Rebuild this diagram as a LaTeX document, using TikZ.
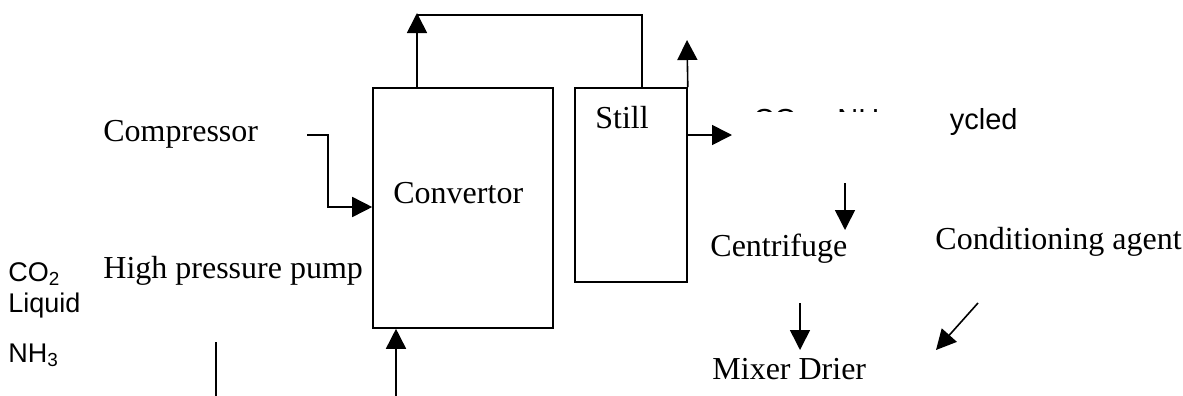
\documentclass[tikz,border=0pt]{standalone}
\usepackage{fontspec}
\setmainfont{Liberation Serif}
\newfontfamily\arialf{Liberation Sans}
\usetikzlibrary{arrows.meta}
\tikzset{
  lbl/.style={inner sep=0pt, anchor=base west, font=\fontsize{16}{19}\selectfont},
  slbl/.style={inner sep=0pt, anchor=base west, font=\arialf\fontsize{13.5}{16}\selectfont},
  rlbl/.style={inner sep=0pt, anchor=base west, font=\arialf\fontsize{14.5}{17}\selectfont},
  unit/.style={draw, line width=0.8pt, inner sep=0pt},
  flow/.style={line width=0.8pt},
  arr/.style={line width=0.8pt, -{Triangle[length=10pt,width=10pt]}}
}
\begin{document}
\begin{tikzpicture}[x=0.5pt,y=-0.5pt]
\useasboundingbox (0,0) rectangle (1183,396);
% units
\node[unit, minimum width=90pt, minimum height=120pt] (conv) at (463,208) {};
\node[unit, minimum width=56pt, minimum height=97pt] (still) at (631,185) {};
% texts
\node[lbl] (tconv) at (393,203) {Convertor};
\node[lbl] (tstill) at (595,128) {Still};
\node[lbl] (tcomp) at (103,141) {Compressor};
\node[lbl] (tpump) at (103,278) {High pressure pump};
\node[lbl] (tcent) at (710,256) {Centrifuge};
\node[lbl] (tcond) at (935,249) {Conditioning agent};
\node[lbl] (tmix) at (712,379) {Mixer Drier};
\node[slbl] (tco2) at (8,281) {CO\textsubscript{2}};
\node[slbl] (tliq) at (8,312) {Liquid};
\node[slbl] (tnh3) at (8,362) {NH\textsubscript{3}};
\node[rlbl] (rco2) at (753,129) {CO\textsubscript{2}};
\node[rlbl] (rnh3) at (837,129) {NH\textsubscript{3}};
\node[rlbl, anchor=base east] (rrec) at (1018,129) {recycled};
% occluding white patch as in the reference
\fill[white] (745,112) rectangle (949,142);
% coordinates for free ends
\coordinate (topL) at (417,15);
\coordinate (topR) at (642,15);
\coordinate (tipA) at (417,13);
\coordinate (tipB) at (687,40);
\coordinate (sr) at (732,135);
\coordinate (cp) at (307,135);
\coordinate (cpb) at (328,207);
\coordinate (pl1) at (216,342);
\coordinate (pl2) at (216,396);
\coordinate (bi) at (396,396);
\coordinate (d1) at (845,183);
\coordinate (d2) at (845,230);
\coordinate (m1) at (800,303);
\coordinate (m2) at (800,350);
\coordinate (g1) at (978,303);
\coordinate (g2) at (936,350);
% connectors
\draw[arr] (topL |- conv.north) -- (tipA);
\draw[flow] (topL) -- (topR) -- (topR |- still.north);
\draw[arr] (still.north east) -- (tipB);
\draw[arr] (sr -| still.east) -- (sr);
\draw[arr] (cp) -| (cpb) -- (cpb -| conv.west);
\draw[flow] (pl1) -- (pl2);
\draw[arr] (bi) -- (bi |- conv.south);
\draw[arr] (d1) -- (d2);
\draw[arr] (m1) -- (m2);
\draw[arr] (g1) -- (g2);
\end{tikzpicture}
\end{document}
